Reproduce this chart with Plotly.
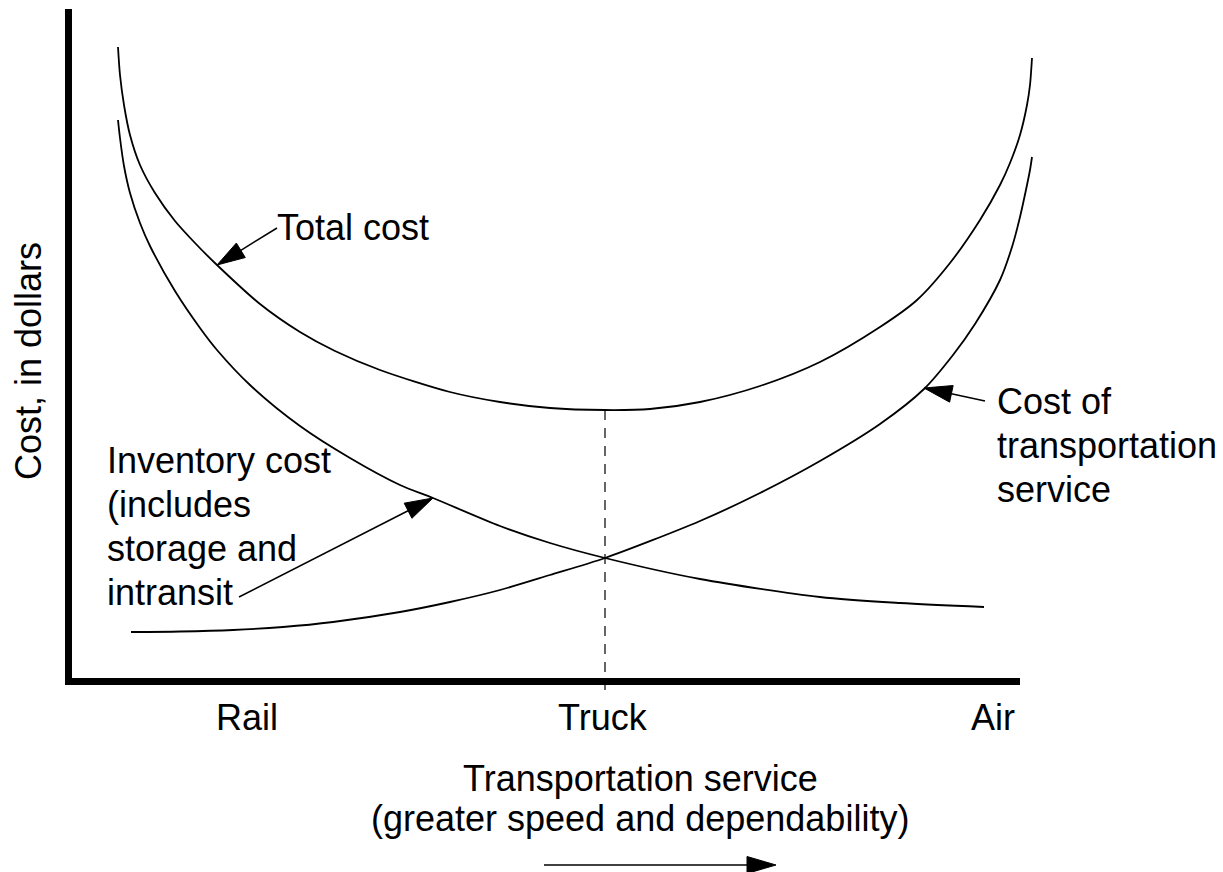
import numpy as np
import plotly.graph_objects as go

# ---- Data (conceptual units: service level on x, cost on y; origin at the axes) ----
total_x = [46, 48, 52, 58, 68, 83, 103, 123, 145, 188, 228, 263, 308, 378, 428, 478, 533,
           578, 628, 688, 748, 808, 845, 878, 908, 928, 938, 948, 955, 958, 960]
total_y = [631, 603, 573, 543, 513, 485, 457, 435, 413, 374, 346, 327, 308, 286, 276, 270, 268,
           269, 276, 292, 316, 351, 378, 415, 458, 493, 515, 543, 573, 593, 620]

inventory_x = [46, 48, 52, 58, 68, 78, 103, 128, 145, 178, 228, 278, 328, 361, 428, 478, 533,
               628, 748, 828, 912]
inventory_y = [558, 540, 512, 485, 455, 432, 387, 350, 328, 293, 252, 220, 193, 180, 152, 135, 120,
               99, 81, 75, 71]

transport_x = [59, 108, 161, 211, 261, 328, 378, 428, 478, 533, 628, 688, 748, 808, 852,
               881, 903, 928, 940, 948, 955, 958, 960]
transport_y = [46, 46.5, 48, 51, 56, 66, 76, 88, 103, 120, 157, 185, 217, 254, 289,
               323, 354, 398, 431, 461, 493, 508, 521]

mode_labels = ["Rail", "Truck", "Air"]
mode_x = [175, 530.5, 920.5]

optimum_x = [533]           # Truck: minimum total cost
optimum_cost = [268]

# ---- Layout constants (1 data unit == 1 pixel) ----
W, H = 1223, 872
X0, Y0 = -72, -194          # data value at left / bottom edge of the figure
FONT = "Liberation Sans, Arial, Helvetica, sans-serif"
FS = 36
AX_W = 7

fig = go.Figure()

line_style = dict(color="black", width=1.8, shape="spline", smoothing=0.8)
for xs, ys, name in [(total_x, total_y, "Total cost"),
                     (inventory_x, inventory_y, "Inventory cost"),
                     (transport_x, transport_y, "Cost of transportation service")]:
    fig.add_trace(go.Scatter(x=xs, y=ys, mode="lines", line=line_style,
                             name=name, hoverinfo="skip", showlegend=False))

# dashed line at optimum
fig.add_trace(go.Scatter(x=[optimum_x[0], optimum_x[0]], y=[optimum_cost[0], -16],
                         mode="lines", line=dict(color="black", width=1.2, dash="10px,8px"),
                         hoverinfo="skip", showlegend=False))

# axes drawn as thick lines
fig.add_trace(go.Scatter(x=[-3.5, -3.5], y=[669, -7], mode="lines",
                         line=dict(color="black", width=AX_W), hoverinfo="skip", showlegend=False))
fig.add_trace(go.Scatter(x=[-7, 948], y=[-3.5, -3.5], mode="lines",
                         line=dict(color="black", width=AX_W), hoverinfo="skip", showlegend=False))


def arrow(tail, tip, L=28, hw=8.5, w=1.5):
    t = np.array(tail, float)
    p = np.array(tip, float)
    u = (p - t) / np.linalg.norm(p - t)
    n = np.array([-u[1], u[0]])
    b = p - L * u
    fig.add_trace(go.Scatter(x=[t[0], b[0]], y=[t[1], b[1]], mode="lines",
                             line=dict(color="black", width=w), hoverinfo="skip", showlegend=False))
    tri = [p, b + hw * n, b - hw * n, p]
    fig.add_trace(go.Scatter(x=[q[0] for q in tri], y=[q[1] for q in tri], mode="lines",
                             fill="toself", fillcolor="black", line=dict(color="black", width=1),
                             hoverinfo="skip", showlegend=False))


arrow((205, 450), (145, 413))      # Total cost
arrow((167, 81), (361, 180))       # Inventory cost
arrow((913, 277), (852, 290))      # Cost of transportation
arrow((472, -187), (704, -187), L=29, hw=8.5)  # direction of service

ann = []


def text(x, y, s, xanchor="left", angle=0):
    ann.append(dict(x=x, y=y, xref="x", yref="y", text=s, showarrow=False,
                    xanchor=xanchor, yanchor="middle", textangle=angle,
                    borderpad=0, borderwidth=0,
                    font=dict(family=FONT, size=FS, color="black")))


text(205, 450.5, "Total cost")
for i, s in enumerate(["Inventory cost", "(includes", "storage and", "intransit"]):
    text(35, 217.5 - 44 * i, s)
for i, s in enumerate(["Cost of", "transportation", "service"]):
    text(925, 277 - 44 * i, s)
for lab, xv in zip(mode_labels, mode_x):
    text(xv, -39, lab, xanchor="center")
text(568, -100.5, "Transportation service", xanchor="center")
text(568, -140, "(greater speed and dependability)", xanchor="center")
text(-44, 317, "Cost, in dollars", xanchor="center", angle=-90)

fig.update_layout(
    width=W, height=H, autosize=False,
    margin=dict(l=0, r=0, t=0, b=0, pad=0),
    paper_bgcolor="white", plot_bgcolor="white",
    xaxis=dict(range=[X0, X0 + W], visible=False, fixedrange=True),
    yaxis=dict(range=[Y0, Y0 + H], visible=False, fixedrange=True),
    annotations=ann,
    showlegend=False,
)

fig.write_html("out.html", config={"displayModeBar": False},
               post_script="document.body.style.margin='0';document.body.style.overflow='hidden';")
